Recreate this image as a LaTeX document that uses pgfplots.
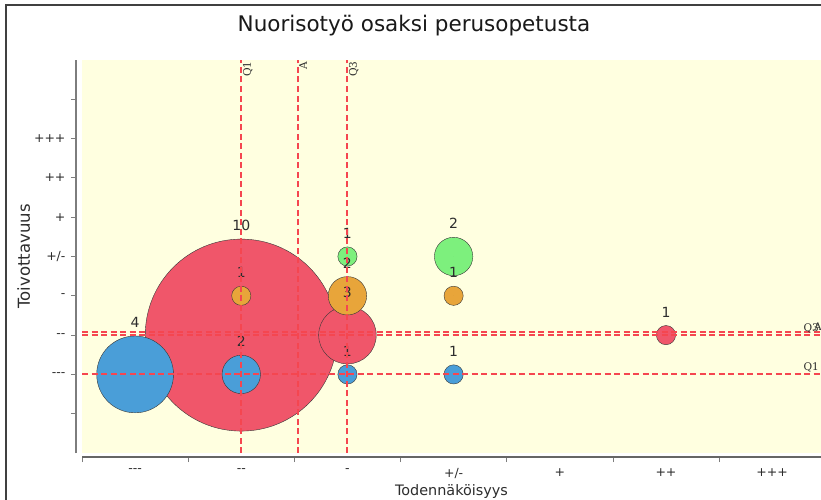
\documentclass[border=0pt]{standalone}
\usepackage{fontspec}
\setmainfont{DejaVu Sans}[Ligatures=TeXOff]
\newfontfamily\serifmk{DejaVu Serif}[Ligatures=TeXOff]
\usepackage{pgfplots}
\pgfplotsset{compat=1.18}
\definecolor{bgy}{RGB}{255,255,224}
\definecolor{cred}{RGB}{240,86,106}
\definecolor{cblue}{RGB}{74,158,216}
\definecolor{corange}{RGB}{232,165,58}
\definecolor{cgreen}{RGB}{125,240,125}
\definecolor{edge}{RGB}{55,55,55}
\definecolor{markred}{RGB}{245,70,80}
\definecolor{axgray}{RGB}{125,125,125}
\definecolor{txt}{RGB}{45,45,45}
\pgfplotsset{
  bub/.style={scatter, only marks, mark=*,
    scatter/use mapped color={draw=edge, fill=#1},
    visualization depends on={9.6*\thisrow{n} \as \rad},
    scatter/@pre marker code/.append style={/tikz/mark size=\rad, /tikz/line width=0.9pt}},
  mkline/.style={color=markred, solid, line width=2pt, dash pattern=on 6pt off 3.5pt, forget plot, no marks}
}
\pgfplotstableread{
x y n
1 1 10
2 1 3
5 1 1
}\redtab
\pgfplotstableread{
x y n
1 2 1
2 2 2
3 2 1
}\orangetab
\pgfplotstableread{
x y n
2 3 1
3 3 2
}\greentab
\pgfplotstableread{
x y n
0 0 4
1 0 2
2 0 1
3 0 1
}\bluetab
\pgfplotstableread{
x y n
1 1 10
2 1 3
5 1 1
1 2 1
2 2 2
3 2 1
2 3 1
3 3 2
0 0 4
1 0 2
2 0 1
3 0 1
}\alltab
\begin{document}
\begin{tikzpicture}[x=1pt,y=1pt]
\useasboundingbox (0,0) rectangle (821,499);
\fill[white] (0,0) rectangle (821,499);
\draw[line width=1.6pt, black!75] (6,-2) -- (6,494) -- (823,494);
\node[anchor=base, font=\fontsize{21.5}{24}\selectfont, text=black!90] at (414,467) {Nuorisotyö osaksi perusopetusta};
\begin{axis}[
  at={(82pt,46pt)}, anchor=south west, scale only axis,
  width=739pt, height=393pt,
  xmin=-0.5, xmax=6.46, ymin=-2, ymax=8,
  clip=false, clip marker paths=true,
  axis background/.style={fill=bgy},
  axis x line*=bottom, axis y line*=left,
  x axis line style={-, draw=black!60, line width=1.3pt, yshift=-4pt},
  y axis line style={-, draw=axgray, line width=1.8pt, xshift=-6pt},
  tick align=outside, major tick length=5pt,
  xtick style={draw=axgray, line width=0.8pt, yshift=-4pt},
  ytick style={draw=axgray, line width=0.8pt, xshift=-6pt},
  xtick={-0.5,0.5,...,5.5}, xticklabels={},
  extra x ticks={0,1,2,3,4,5,6},
  extra x tick labels={{---},{--},{-},{+/-},{+},{++},{+++}},
  extra x tick style={major tick length=0pt},
  xticklabel style={font=\fontsize{12.5}{14}\selectfont, text=txt, yshift=-12pt},
  ytick={-1,0,1,2,3,4,5,6,7},
  yticklabels={,{---},{--},{-},{+/-},{+},{++},{+++},},
  yticklabel style={font=\fontsize{12.5}{14}\selectfont, text=txt, xshift=-8pt},
  xlabel={Todennäköisyys},
  xlabel style={at={(axis description cs:0.5,0)}, anchor=base, yshift=-42pt, font=\fontsize{14.4}{16}\selectfont, text=txt},
  ylabel={Toivottavuus},
  ylabel style={at={(axis description cs:-0.0704,0.5)}, anchor=base, font=\fontsize{16.5}{18}\selectfont, text=txt},
]
\addplot[bub=cred] table {\redtab};
\addplot[bub=corange] table {\orangetab};
\addplot[bub=cgreen] table {\greentab};
\addplot[bub=cblue] table {\bluetab};
\addplot[only marks, mark=*, mark size=0pt, mark options={draw=none, fill=none},
  visualization depends on={9.6*\thisrow{n}+8.5 \as \off},
  point meta=explicit symbolic,
  nodes near coords={\pgfplotspointmeta},
  every node near coord/.append style={anchor=base, inner sep=0pt, yshift=\off, font=\fontsize{14}{16}\selectfont, text=txt}]
  table[meta=n] {\alltab};
% markers
\addplot[mkline] coordinates {(1,-2) (1,8)};
\addplot[mkline] coordinates {(1.53,-2) (1.53,8)};
\addplot[mkline] coordinates {(2,-2) (2,8)};
\addplot[mkline] coordinates {(-0.5,0) (6.46,0)};
\addplot[mkline] coordinates {(-0.5,1) (6.46,1)};
\addplot[mkline] coordinates {(-0.5,1.07) (6.46,1.07)};
\node[rotate=90, anchor=north east, inner sep=1.5pt, font=\serifmk\fontsize{10.5}{12}\selectfont, text=txt] at (axis cs:1,8) {Q1};
\node[rotate=90, anchor=north east, inner sep=1.5pt, font=\serifmk\fontsize{10.5}{12}\selectfont, text=txt] at (axis cs:1.53,8) {A};
\node[rotate=90, anchor=north east, inner sep=1.5pt, font=\serifmk\fontsize{10.5}{12}\selectfont, text=txt] at (axis cs:2,8) {Q3};
\node[anchor=south east, inner sep=2pt, font=\serifmk\fontsize{10.5}{12}\selectfont, text=txt] at (axis cs:6.46,0) {Q1};
\node[anchor=south east, inner sep=2pt, font=\serifmk\fontsize{10.5}{12}\selectfont, text=txt] at (axis cs:6.46,1) {Q3};
\node[anchor=south east, inner sep=2pt, xshift=3pt, font=\serifmk\fontsize{10.5}{12}\selectfont, text=txt] at (axis cs:6.46,1.07) {A};
\end{axis}
\end{tikzpicture}
\end{document}
